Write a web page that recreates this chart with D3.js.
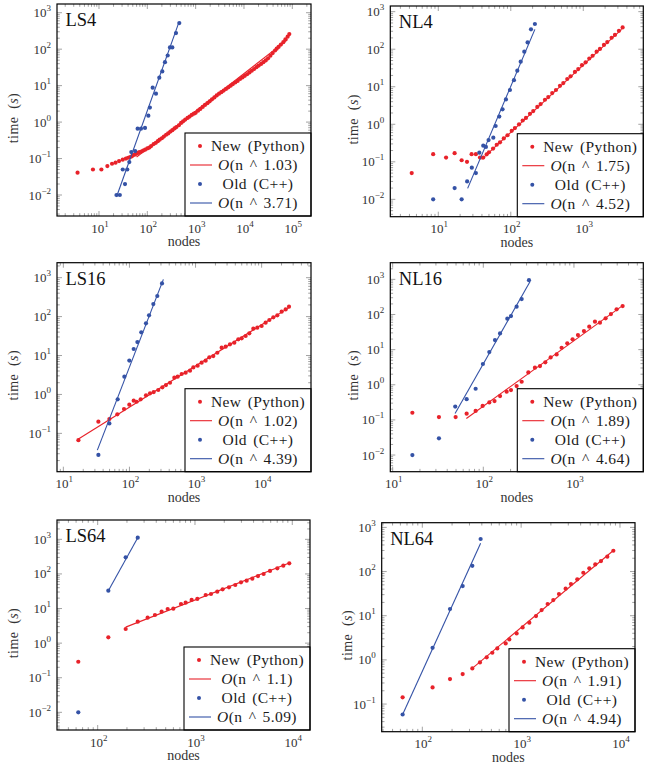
<!DOCTYPE html>
<html>
<head>
<meta charset="utf-8">
<script src="https://cdn.jsdelivr.net/npm/d3@7/dist/d3.min.js"></script>
<style>
body { margin: 0; background: #fff; }
svg text { font-family: "Liberation Serif", "DejaVu Serif", serif !important; }
</style>
</head>
<body>
<svg id="chart" width="648" height="764" font-family="Liberation Serif, DejaVu Serif, serif"></svg>
<script>
// ---- data: [nodes, time (s)] ----
var ls4_new = [[3.6,0.041],[7.5,0.05],[11.2,0.05],[14.9,0.062],[18.6,0.072],[22,0.077],[26,0.085],[31,0.093],
  [36,0.1],[40,0.105],[44,0.11],[48,0.115],[52,0.125],[56,0.13],[62,0.14],[68,0.15],[75,0.155],[82,0.165],[90,0.175],
  [100,0.19],[110,0.2],[120,0.22],[135,0.25],[150,0.27],[165,0.3],[180,0.33],[200,0.36],[220,0.4],[245,0.45],[270,0.49],
  [300,0.55],[330,0.6],[365,0.67],[400,0.73],[450,0.82],[500,0.95],[550,1.05],[610,1.17],[680,1.3],[750,1.42],[830,1.57],
  [920,1.7],[1000,1.8],[1120,2.05],[1250,2.3],[1400,2.6],[1560,2.95],[1750,3.3],[1950,3.7],[2180,4.2],[2440,4.75],
  [2730,5.4],[3050,6.0],[3400,6.6],[3800,7.3],[4250,8.1],[4750,9.0],[5300,10],[5900,11],[6600,12.2],[7400,13.5],
  [8300,15.2],[9300,16.8],[10400,18.6],[11600,20.5],[13000,23],[14500,25.6],[16200,28.6],[18100,32],[20200,35.5],
  [22600,39.5],[25200,44],[28200,49],[31500,56],[35200,66],[39300,78],[44000,92],[47500,103],[52000,115],[58000,134],
  [65200,156],[72000,185],[80000,220],[86700,260]];
var ls4_new_fit = [[60,0.11],[80000,182]];
var ls4_old = [[23,0.01],[27,0.01],[31,0.05],[34.5,0.02],[38.5,0.05],[42.4,0.08],[46.6,0.15],[56,0.16],[63,0.66],
  [74,0.66],[89.5,0.69],[105,1.5],[113,2.5],[129,8.8],[151,6.0],[177,16.5],[204,24.6],[232,44],[264,67],[294,112],
  [329,112],[392,277],[459,520]];
var ls4_old_fit = [[23,0.0088],[450,542]];

var nl4_new = [[4.3,0.05],[8.5,0.16],[12.8,0.13],[16.8,0.17],[21,0.11],[24.9,0.1],[28.8,0.16],[33,0.16],[37.6,0.13],
  [41.7,0.13],[46.5,0.158],[50,0.18],[57,0.225],[64,0.285],[71,0.33],[80,0.42],[90,0.51],[103,0.67],[114,0.79],
  [130,1.0],[146,1.26],[162,1.48],[184,1.9],[204,2.25],[232,2.9],[258,3.45],[296,4.5],[329,5.3],[373,6.8],
  [420,8.2],[477,10.6],[530,12.5],[601,16.1],[668,19],[767,24.8],[853,29.5],[959,37.5],[1077,44.8],[1210,56.5],
  [1345,67],[1528,86],[1698,102],[1928,130],[2143,155],[2460,202],[2735,240],[3105,308],[3490,380]];
var nl4_new_fit = [[39.6,0.116],[3380,338]];
var nl4_old = [[8.5,0.01],[16.8,0.02],[21,0.01],[25,0.03],[29,0.07],[33,0.05],[36.8,0.175],[41.7,0.27],[45.4,0.25],
  [49.4,0.38],[57.4,0.44],[61.8,0.9],[69.4,1.6],[77,2.5],[85.7,4.6],[97.4,8.2],[110.6,15],[123,26.8],[137,46.5],
  [153.6,86],[170.6,152],[190,338],[215,469]];
var nl4_old_fit = [[25.4,0.0196],[215,338]];

var ls16_new = [[16.9,0.067],[33.9,0.2],[49.7,0.233],[65.6,0.308],[82.8,0.42],[99.6,0.545],[116,0.69],[128.5,0.65],
  [148,0.75],[178,0.95],[205,1.07],[233,1.15],[273,1.3],[315,1.52],[357,1.74],[411,2.0],[478,2.69],[537,2.86],
  [617,3.35],[709,3.62],[825,4.08],[926,4.96],[1077,5.48],[1238,6.55],[1423,7.36],[1618,8.97],[1858,9.7],[2137,11.8],
  [2485,15.9],[2857,16.9],[3321,19.4],[3864,21.4],[4439,26],[4989,27.6],[5730,31.7],[6513,37.1],[7484,48.9],
  [8602,51.9],[10000,57.3],[11500,69.8],[13090,81.7],[15040,95.7],[17280,108],[20090,134],[23100,153],[25940,180]];
var ls16_new_fit = [[16.9,0.072],[26000,170]];
var ls16_old = [[33.9,0.028],[49.7,0.18],[66.4,0.75],[83.8,2.86],[99.6,7.4],[116,14.7],[132,22.2],[151,39.4],
  [178,67],[198,108],[230,210],[264,338],[311,714]];
var ls16_old_fit = [[32.7,0.037],[326,906]];

var nl16_new = [[16.5,0.16],[32.4,0.12],[49.5,0.12],[65.5,0.15],[82.3,0.18],[98.3,0.25],[116.5,0.315],[133,0.344],
  [153,0.478],[181,0.635],[202,0.708],[233,0.92],[265,1.22],[314,2.25],[371,3.06],[422,3.41],[483,4.34],[553,6.0],
  [644,7.3],[731,11.3],[844,15.1],[966,19.6],[1107,26],[1288,33.8],[1475,45],[1705,62.4],[1936,58.5],[2235,77.6],
  [2560,103],[2955,140],[3444,174]];
var nl16_new_fit = [[65,0.11],[3350,170]];
var nl16_old = [[16.5,0.01],[32.4,0.03],[49,0.24],[65.5,0.39],[82.3,0.77],[99,3.9],[116.5,8.5],[134.5,18.7],
  [153,29],[184,76],[202,90],[233,167],[265,275],[319,950]];
var nl16_old_fit = [[48.8,0.153],[327,858]];

var ls64_new = [[63.2,0.29],[128.7,1.47],[194,2.56],[258,4.17],[326,5.44],[388,6.5],[454,8.1],[524,9.7],[599,9.9],
  [718,13.5],[802,14.8],[924,17.7],[1057,18.9],[1288,24.6],[1460,26.3],[1695,30.7],[1923,35.9],[2234,41],[2595,47.9],
  [2970,57.2],[3397,63.9],[3884,73],[4440,87],[5075,99.6],[5900,122],[7015,145],[8085,173],[9310,202]];
var ls64_new_fit = [[194,2.9],[9310,207]];
var ls64_old = [[63.2,0.01],[128.7,32.8],[194,302],[258,1117]];
var ls64_old_fit = [[128.7,32.8],[258,1117]];

var nl64_new = [[63.2,0.142],[127,0.238],[190.6,0.368],[256,0.478],[320.6,0.642],[383,0.877],[448,1.14],[511,1.45],
  [574,1.82],[697,2.36],[759,2.91],[900,3.98],[1035,5.44],[1210,6.95],[1413,9.8],[1612,13.4],[1854,18.4],[2115,22.6],
  [2414,31],[2818,40.9],[3190,52.1],[3698,66.5],[4256,94],[4894,118],[5623,145],[6424,173],[7447,217],[8570,296]];
var nl64_new_fit = [[320,0.64],[8690,307]];
var nl64_old = [[63.2,0.058],[127,1.88],[190.6,14.2],[256,47],[320.6,135],[389,545]];
var nl64_old_fit = [[63.2,0.058],[389,435]];

var names = ["LS4", "NL4", "LS16", "NL16", "LS64", "NL64"];
var new_exps = ["1.03", "1.75", "1.02", "1.89", "1.1", "1.91"];
var old_exps = ["3.71", "4.52", "4.39", "4.64", "5.09", "4.94"];

// ---- layout: frame box [x0,y0,x1,y1] in px, axis limits as powers of ten ----
var layout = [
  {box: [57, 4, 311, 216],       xd: [0.131, 5.387], yd: [-2.576, 3.239], ylab: 44},
  {box: [390.3, 6, 643.3, 216.7], xd: [0.338, 3.828], yd: [-2.462, 3.151], ylab: 37},
  {box: [57, 262.7, 311, 471.7],  xd: [0.904, 4.747], yd: [-1.985, 3.385], ylab: 44},
  {box: [390.3, 262.7, 643.3, 471.7], xd: [0.974, 3.765], yd: [-2.474, 3.474], ylab: 37},
  {box: [57, 520, 310, 730],     xd: [1.582, 4.182], yd: [-2.511, 3.559], ylab: 44},
  {box: [381.7, 522.7, 635, 731.7], xd: [1.589, 4.152], yd: [-1.626, 3.106], ylab: 35}
];
var series = [
  [ls4_new, ls4_new_fit, ls4_old, ls4_old_fit],
  [nl4_new, nl4_new_fit, nl4_old, nl4_old_fit],
  [ls16_new, ls16_new_fit, ls16_old, ls16_old_fit],
  [nl16_new, nl16_new_fit, nl16_old, nl16_old_fit],
  [ls64_new, ls64_new_fit, ls64_old, ls64_old_fit],
  [nl64_new, nl64_new_fit, nl64_old, nl64_old_fit]
];

var red = "#e8222a", blue = "#3452a6";
var tick_color = "#999";
var serif = "Liberation Serif, DejaVu Serif, serif";
var svg = d3.select("#chart");

function logTicks(d) {
  var out = [];
  for (var k = Math.floor(d[0]); k <= Math.floor(d[1]); k++) {
    for (var m = 1; m <= 9; m++) {
      var v = m * Math.pow(10, k);
      var lv = Math.log10(v);
      if (lv >= d[0] && lv <= d[1]) out.push({v: v, major: m === 1, e: k});
    }
  }
  return out;
}

function supLabel(sel, e) {
  sel.append("tspan").text("10");
  sel.append("tspan")
    .attr("dy", -6)
    .attr("font-size", "9px")
    .text(e < 0 ? "\u2212" + (-e) : String(e));
}

function drawTicks(g, L, x, y) {
  var b = L.box;
  var xt = logTicks(L.xd), yt = logTicks(L.yd);
  [b[3], b[1]].forEach(function(y0, side) {
    g.selectAll(null).data(xt).enter().append("line")
      .attr("x1", d => x(d.v)).attr("x2", d => x(d.v))
      .attr("y1", y0)
      .attr("y2", d => y0 + (side ? 1 : -1) * (d.major ? 5 : 2.8))
      .style("stroke", tick_color).style("stroke-width", 0.9);
  });
  [b[0], b[2]].forEach(function(x0, side) {
    g.selectAll(null).data(yt).enter().append("line")
      .attr("y1", d => y(d.v)).attr("y2", d => y(d.v))
      .attr("x1", x0)
      .attr("x2", d => x0 + (side ? -1 : 1) * (d.major ? 5 : 2.8))
      .style("stroke", tick_color).style("stroke-width", 0.9);
  });

  g.selectAll(null).data(xt.filter(d => d.major)).enter().append("text")
    .attr("x", d => x(d.v) + 1)
    .attr("y", b[3] + 16.5)
    .attr("text-anchor", "middle")
    .attr("font-family", serif)
    .attr("font-size", "13px")
    .attr("fill", "#333")
    .each(function(d) { supLabel(d3.select(this), d.e); });

  g.selectAll(null).data(yt.filter(d => d.major)).enter().append("text")
    .attr("x", b[0] - 6)
    .attr("y", d => y(d.v) + 4.5)
    .attr("text-anchor", "end")
    .attr("font-family", serif)
    .attr("font-size", "13px")
    .attr("fill", "#333")
    .each(function(d) { supLabel(d3.select(this), d.e); });
}

function drawSeries(g, pts, fit, color, x, y) {
  var line = d3.line().x(d => x(d[0])).y(d => y(d[1]));
  g.append("path")
    .datum(fit)
    .attr("d", line)
    .style("fill", "none")
    .style("stroke", color)
    .style("stroke-width", 1.1);
  g.selectAll(null).data(pts).enter().append("circle")
    .attr("cx", d => x(d[0]))
    .attr("cy", d => y(d[1]))
    .attr("r", 2.1)
    .style("fill", color);
}

function drawLegend(g, L, i) {
  var b = L.box, w = 126, h = 83;
  var lx = b[2] - w, ly = b[3] - h;
  g.append("rect")
    .attr("x", lx).attr("y", ly).attr("width", w).attr("height", h)
    .style("fill", "#fff").style("stroke", "#000").style("stroke-width", 1.1);
  var rows = [
    {kind: "dot", color: red, label: "New (Python)"},
    {kind: "line", color: red, exp: new_exps[i]},
    {kind: "dot", color: blue, label: "Old (C++)"},
    {kind: "line", color: blue, exp: old_exps[i]}
  ];
  rows.forEach(function(r, j) {
    var ry = ly + 13 + j * 19;
    if (r.kind === "dot") {
      g.append("circle").attr("cx", lx + 15).attr("cy", ry).attr("r", 2).style("fill", r.color);
    } else {
      g.append("line").attr("x1", lx + 5).attr("x2", lx + 27).attr("y1", ry).attr("y2", ry)
        .style("stroke", r.color).style("stroke-width", 1.1);
    }
    var t = g.append("text")
      .attr("x", lx + 73).attr("y", ry + 5)
      .attr("text-anchor", "middle")
      .attr("font-family", serif)
      .attr("font-size", "15.5px")
      .attr("letter-spacing", "0.4px")
      .attr("word-spacing", "2px")
      .attr("fill", "#1a1a1a");
    if (r.kind === "dot") {
      t.text(r.label);
    } else {
      t.append("tspan").attr("font-style", "italic").text("O");
      t.append("tspan").text("(n ^ " + r.exp + ")");
    }
  });
}

function drawPanel(i) {
  var L = layout[i], b = L.box, s = series[i];
  var g = svg.append("g").attr("class", "panel");
  var x = d3.scaleLog().domain([Math.pow(10, L.xd[0]), Math.pow(10, L.xd[1])]).range([b[0], b[2]]);
  var y = d3.scaleLog().domain([Math.pow(10, L.yd[0]), Math.pow(10, L.yd[1])]).range([b[3], b[1]]);

  drawTicks(g, L, x, y);
  drawSeries(g, s[0], s[1], red, x, y);
  drawSeries(g, s[2], s[3], blue, x, y);
  drawLegend(g, L, i);

  g.append("rect")
    .attr("x", b[0]).attr("y", b[1])
    .attr("width", b[2] - b[0]).attr("height", b[3] - b[1])
    .style("fill", "none").style("stroke", "#000").style("stroke-width", 1.2);

  g.append("text")
    .attr("x", b[0] + 8.5).attr("y", b[1] + 22)
    .attr("font-family", serif)
    .attr("font-size", "18.5px")
    .attr("fill", "#111")
    .text(names[i]);

  g.append("text")
    .attr("x", (b[0] + b[2]) / 2).attr("y", b[3] + 30)
    .attr("text-anchor", "middle")
    .attr("font-family", serif)
    .attr("font-size", "14px")
    .attr("fill", "#333")
    .text("nodes");

  var yl = g.append("text")
    .attr("transform", "translate(" + (b[0] - L.ylab) + "," + ((b[1] + b[3]) / 2 + 8) + ") rotate(-90)")
    .attr("text-anchor", "middle")
    .attr("dy", "0.35em")
    .attr("font-family", serif)
    .attr("font-size", "14px")
    .attr("fill", "#333")
    .attr("letter-spacing", "0.4px")
    .attr("word-spacing", "4px");
  yl.append("tspan").text("time (");
  yl.append("tspan").attr("font-style", "italic").text("s");
  yl.append("tspan").text(")");
}

names.forEach((n, i) => drawPanel(i));
</script>
</body>
</html>
